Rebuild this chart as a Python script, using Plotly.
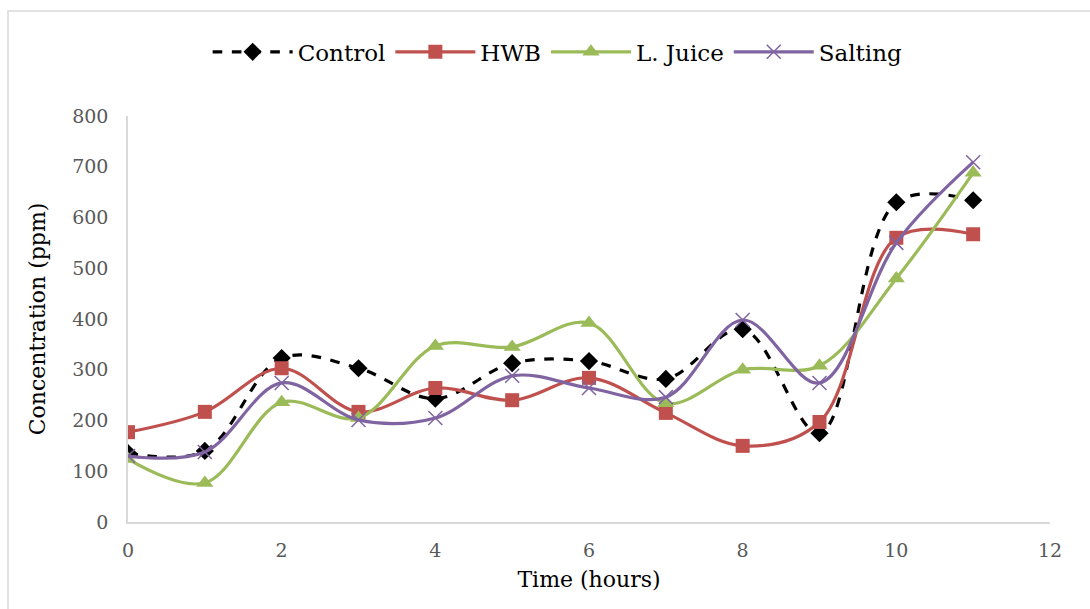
import plotly.graph_objects as go

hours = [0, 1, 2, 3, 4, 5, 6, 7, 8, 9, 10, 11]
control = [136, 140, 323, 303, 243, 313, 317, 282, 380, 175, 630, 634]
hwb = [177, 217, 303, 217, 264, 240, 284, 215, 150, 197, 560, 567]
ljuice = [124, 77, 236, 205, 347, 345, 392, 234, 300, 308, 480, 688]
salting = [130, 138, 274, 201, 205, 288, 264, 246, 398, 274, 550, 709]

x_ticks = [0, 2, 4, 6, 8, 10, 12]
y_ticks = [0, 100, 200, 300, 400, 500, 600, 700, 800]

FONT = "DejaVu Serif"

fig = go.Figure()
fig.add_trace(go.Scatter(x=hours, y=control, name="Control", mode="lines+markers",
                         line=dict(color="black", width=3.2, dash="dash", shape="spline", smoothing=1),
                         marker=dict(symbol="diamond", size=14, color="black")))
fig.add_trace(go.Scatter(x=hours, y=hwb, name="HWB", mode="lines+markers",
                         line=dict(color="#C0504D", width=3.2, shape="spline", smoothing=1),
                         marker=dict(symbol="square", size=14, color="#C0504D")))
fig.add_trace(go.Scatter(x=hours, y=ljuice, name="L. Juice", mode="lines+markers",
                         line=dict(color="#9BBB59", width=3.2, shape="spline", smoothing=1),
                         marker=dict(symbol="triangle-up", size=15, color="#9BBB59")))
fig.add_trace(go.Scatter(x=hours, y=salting, name="Salting", mode="lines+markers",
                         line=dict(color="#8064A2", width=3.2, shape="spline", smoothing=1),
                         marker=dict(symbol="x-thin-open", size=14, color="#8064A2",
                                     line=dict(color="#8064A2", width=1.5))))

fig.update_layout(
    width=1090, height=609,
    margin=dict(l=128, r=40, t=116, b=87),
    paper_bgcolor="white", plot_bgcolor="white",
    font=dict(family=FONT, color="black"),
    showlegend=True,
    legend=dict(orientation="h", x=0.466, xanchor="center", y=1.158, yanchor="middle",
                font=dict(family=FONT, size=23, color="black"), itemwidth=80,
                bgcolor="rgba(0,0,0,0)"),
    xaxis=dict(range=[0, 12], tickvals=x_ticks, ticktext=[str(v) for v in x_ticks],
               showgrid=False, zeroline=False, showline=True, linecolor="#D9D9D9", linewidth=1.5,
               ticks="", ticklabelstandoff=10, tickfont=dict(family=FONT, size=19, color="#595959"),
               title=dict(text="Time (hours)", font=dict(family=FONT, size=22, color="black"), standoff=12)),
    yaxis=dict(range=[0, 800], tickvals=y_ticks, ticktext=[str(v) for v in y_ticks],
               showgrid=False, zeroline=False, showline=True, linecolor="#D9D9D9", linewidth=1.5,
               ticks="", ticklabelstandoff=14, tickfont=dict(family=FONT, size=19, color="#595959"),
               title=dict(text="Concentration (ppm)", font=dict(family=FONT, size=22, color="black"), standoff=20)),
)

fig.add_shape(type="rect", xref="paper", yref="paper",
              x0=(8 - 128) / 922, x1=1.2, y0=-0.4, y1=(522 - 11) / 406,
              line=dict(color="#D9D9D9", width=1.5), fillcolor="rgba(0,0,0,0)", layer="below")

fig.write_html("out.html")
